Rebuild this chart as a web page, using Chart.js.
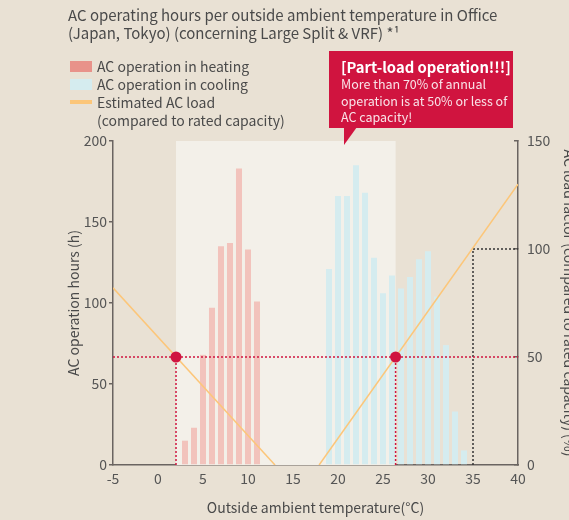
<!DOCTYPE html>
<html>
<head>
<meta charset="utf-8">
<script src="https://cdn.jsdelivr.net/npm/chart.js@4/dist/chart.umd.min.js"></script>
<style>
  body { margin:0; background:#e9e1d4; font-family:"Noto Sans CJK JP","Noto Sans",sans-serif; color:#4a4a4a; }
  #wrap { position:relative; width:569px; height:520px; overflow:hidden; }
  #myChart { position:absolute; left:0; top:0; }
  .txt { position:absolute; white-space:nowrap; font-size:14px; line-height:18px; }
  .ttl { font-size:15px; }
  .sw { position:absolute; left:70px; width:22px; }
  #callout { position:absolute; left:329px; top:51px; width:184px; height:77px; background:#d0143f; color:#f9e3e8; white-space:nowrap; }
  #callout .t1 { position:absolute; left:12px; top:5px; font-size:14.8px; font-weight:bold; color:#fff; line-height:21px; }
  #callout .t2 { position:absolute; left:12px; top:25px; font-size:12.5px; line-height:16.5px; }
  #pointer { position:absolute; left:344px; top:127px; width:13px; height:18px; background:#d0143f; clip-path:polygon(0 0,100% 0,0 100%); }
</style>
</head>
<body>
<div id="wrap">
  <canvas id="myChart" width="569" height="520"></canvas>
  <div class="txt ttl" style="left:68px;top:6px;">AC operating hours per outside ambient temperature in Office</div>
  <div class="txt ttl" style="left:68px;top:24px;">(Japan, Tokyo) (concerning Large Split &amp; VRF) *¹</div>

  <div class="sw" id="sw1" style="top:61px;height:11px;"></div>
  <div class="txt" style="left:97px;top:57px;">AC operation in heating</div>
  <div class="sw" id="sw2" style="top:79px;height:11px;"></div>
  <div class="txt" style="left:97px;top:75px;">AC operation in cooling</div>
  <div class="sw" id="sw3" style="top:100px;height:4px;"></div>
  <div class="txt" style="left:97px;top:93px;">Estimated AC load</div>
  <div class="txt" style="left:97px;top:111px;">(compared to rated capacity)</div>

  <div id="callout">
    <div class="t1">[Part-load operation!!!]</div>
    <div class="t2">More than 70% of annual<br>operation is at 50% or less of<br>AC capacity!</div>
  </div>
  <div id="pointer"></div>
</div>
<script>
// 数据
const heatTemps = [3, 4, 5, 6, 7, 8, 9, 10, 11]
const heatHours = [15, 23, 68, 97, 135, 137, 183, 133, 101]
const coolTemps = [19, 20, 21, 22, 23, 24, 25, 26, 27, 28, 29, 30, 31, 32, 33, 34]
const coolHours = [121, 166, 166, 185, 168, 128, 106, 117, 109, 116, 127, 132, 104, 74, 33, 9]
// 负荷线 (温度, %)
const heatLoadT = [-5, 13]
const heatLoadPct = [82, 0]
const coolLoadT = [17.9, 40]
const coolLoadPct = [0, 130]
// 部分负荷点 / 阴影区
const partLoadT = [2, 26.4]
const partLoadPct = [50, 50]
const ratedT = [35, 35, 40]
const ratedPct = [0, 100, 100]
const xTicks = [-5, 40, 5]
const yTicks = [0, 200, 50]
const y2Ticks = [0, 150, 50]

const heatColor = "#f2c3bc"
const heatSwatch = "#e8928a"
const coolColor = "#d5ecef"
const loadColor = "#fcc679"
const red = "#d0143f"
const axisColor = "#6a6461"
const tickColor = "#555"
const fontFam = '"Noto Sans CJK JP","Noto Sans",sans-serif'

document.getElementById("sw1").style.background = heatSwatch
document.getElementById("sw2").style.background = coolColor
document.getElementById("sw3").style.background = loadColor

const pts = (xs, ys) => xs.map((x, i) => ({ x: x, y: ys[i] }))

// 阴影区背景
const bandPlugin = {
  id: "band",
  beforeDatasetsDraw(chart) {
    const { ctx, chartArea, scales } = chart
    const x1 = scales.x.getPixelForValue(partLoadT[0])
    const x2 = scales.x.getPixelForValue(partLoadT[1])
    ctx.save()
    ctx.fillStyle = "#f3f0e9"
    ctx.fillRect(x1, chartArea.top, x2 - x1, chartArea.bottom - chartArea.top)
    ctx.restore()
  }
}

const ctx = document.getElementById("myChart").getContext("2d")
const myChart = new Chart(ctx, {
  type: "bar",
  data: {
    datasets: [
      { type: "line", data: pts(partLoadT, partLoadPct), yAxisID: "y2", showLine: false,
        pointRadius: 5.5, pointBackgroundColor: red, pointBorderWidth: 0, order: 0 },
      { type: "line", data: pts(heatLoadT, heatLoadPct), yAxisID: "y2", borderColor: loadColor,
        borderWidth: 1.5, pointRadius: 0, order: 1 },
      { type: "line", data: pts(coolLoadT, coolLoadPct), yAxisID: "y2", borderColor: loadColor,
        borderWidth: 1.5, pointRadius: 0, order: 1 },
      { type: "line", data: pts([xTicks[0], xTicks[1]], partLoadPct), yAxisID: "y2", borderColor: red,
        borderWidth: 1.5, borderDash: [2, 2], pointRadius: 0, order: 2 },
      { type: "line", data: pts([partLoadT[0], partLoadT[0]], [0, partLoadPct[0]]), yAxisID: "y2", borderColor: red,
        borderWidth: 1.5, borderDash: [2, 2], pointRadius: 0, order: 2 },
      { type: "line", data: pts([partLoadT[1], partLoadT[1]], [0, partLoadPct[1]]), yAxisID: "y2", borderColor: red,
        borderWidth: 1.5, borderDash: [2, 2], pointRadius: 0, order: 2 },
      { type: "line", data: pts(ratedT, ratedPct), yAxisID: "y2", borderColor: "#333",
        borderWidth: 1.5, borderDash: [2, 2], pointRadius: 0, order: 2 },
      { label: "AC operation in heating", data: pts(heatTemps, heatHours), yAxisID: "y",
        backgroundColor: heatColor, grouped: false, barPercentage: 0.67, categoryPercentage: 1, order: 5 },
      { label: "AC operation in cooling", data: pts(coolTemps, coolHours), yAxisID: "y",
        backgroundColor: coolColor, grouped: false, barPercentage: 0.67, categoryPercentage: 1, order: 5 }
    ]
  },
  options: {
    responsive: false,
    animation: false,
    events: [],
    layout: { padding: { top: 141, left: 0, right: 0, bottom: 0 } },
    plugins: { legend: { display: false }, tooltip: { enabled: false } },
    scales: {
      x: {
        type: "linear", min: xTicks[0], max: xTicks[1], offset: false,
        grid: { display: false, offset: false, drawTicks: false },
        border: { display: true, color: axisColor, width: 1.5 },
        ticks: { stepSize: xTicks[2], padding: 5, color: tickColor, font: { family: fontFam, size: 14 } },
        title: { display: true, text: "Outside ambient temperature(°C)", color: "#4a4a4a",
          font: { family: fontFam, size: 14 }, padding: { top: 0, bottom: 4 } },
        afterFit(s) { s.height = 55 }
      },
      y: {
        position: "left", min: yTicks[0], max: yTicks[1],
        grid: { drawOnChartArea: false, drawTicks: true, tickLength: 4, color: axisColor, lineWidth: 1.5 },
        border: { display: true, color: axisColor, width: 1.5 },
        ticks: { stepSize: yTicks[2], padding: 2, color: tickColor, font: { family: fontFam, size: 14 } },
        title: { display: true, text: "AC operation hours (h)", color: "#4a4a4a",
          font: { family: fontFam, size: 14 }, padding: { top: 65, bottom: 0 } },
        afterFit(s) { s.width = 113 }
      },
      y2: {
        position: "right", min: y2Ticks[0], max: y2Ticks[1],
        grid: { drawOnChartArea: false, drawTicks: true, tickLength: -4, color: axisColor, lineWidth: 1.5 },
        border: { display: true, color: axisColor, width: 1.5 },
        ticks: { stepSize: y2Ticks[2], padding: 13, color: tickColor, font: { family: fontFam, size: 14 } },
        title: { display: true, text: "AC load factor (compared to rated capacity) (%)", color: "#4a4a4a",
          font: { family: fontFam, size: 14 }, padding: { top: -9, bottom: 0 } },
        afterFit(s) { s.width = 51 }
      }
    }
  },
  plugins: [bandPlugin]
})
</script>
</body>
</html>
